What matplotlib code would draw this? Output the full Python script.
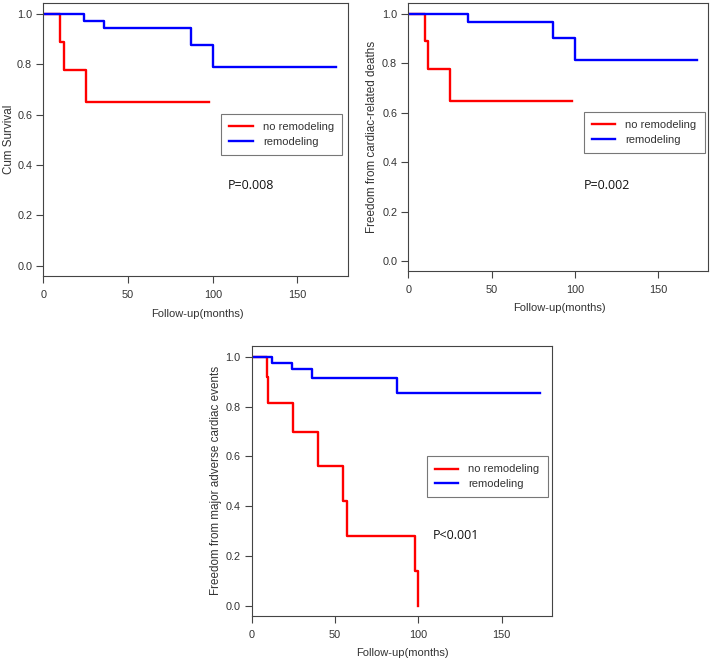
import matplotlib

matplotlib.use("Agg")
import matplotlib.pyplot as plt

plt.rcParams["font.family"] = ["Liberation Sans", "DejaVu Sans"]

# Panel A: cumulative survival
a_no_t = [0, 10, 12, 25, 98]
a_no_s = [1.0, 0.889, 0.778, 0.648, 0.648]
a_re_t = [0, 24, 36, 87, 100, 173]
a_re_s = [1.0, 0.971, 0.943, 0.877, 0.790, 0.790]

# Panel B: freedom from cardiac-related deaths
b_no_t = [0, 10, 12, 25, 98]
b_no_s = [1.0, 0.889, 0.778, 0.648, 0.648]
b_re_t = [0, 36, 87, 100, 173]
b_re_s = [1.0, 0.967, 0.902, 0.812, 0.812]

# Panel C: freedom from major adverse cardiac events
c_no_t = [0, 9, 10, 25, 40, 55, 57, 98, 100]
c_no_s = [1.0, 0.917, 0.815, 0.699, 0.560, 0.419, 0.279, 0.140, 0.0]
c_re_t = [0, 12, 24, 36, 87, 173]
c_re_s = [1.0, 0.976, 0.951, 0.915, 0.853, 0.853]

group_labels = ["no remodeling", "remodeling"]
x_ticks = [0, 50, 100, 150]
y_ticks = [0.0, 0.2, 0.4, 0.6, 0.8, 1.0]

SPINE = "#444444"
TEXT = "#333333"


def draw_panel(fig, rect, no_t, no_s, re_t, re_s, ylabel, ptext,
               leg_anchor, p_pos, ylab_x, xlab_y):
    ax = fig.add_axes(rect)
    ax.step(no_t, no_s, where="post", color="#ff0000", lw=1.7, label=group_labels[0])
    ax.step(re_t, re_s, where="post", color="#0000ff", lw=1.7, label=group_labels[1])

    ax.set_xlim(0, 180)
    ax.set_ylim(-0.04, 1.043)
    ax.set_xticks(x_ticks)
    ax.set_yticks(y_ticks)
    ax.set_yticklabels([f"{v:.1f}" for v in y_ticks])
    ax.tick_params(direction="out", length=5, width=0.8, color=SPINE,
                   labelcolor=TEXT, labelsize=7.8)
    ax.tick_params(axis="x", pad=5)
    ax.tick_params(axis="y", pad=3)
    for spine in ax.spines.values():
        spine.set_color(SPINE)
        spine.set_linewidth(0.8)

    ax.set_xlabel("Follow-up(months)", fontsize=8, color=TEXT)
    ax.set_ylabel(ylabel, fontsize=8.4, color=TEXT)
    ax.xaxis.set_label_coords(0.504, xlab_y)
    ax.yaxis.set_label_coords(ylab_x, 0.5)

    leg = ax.legend(loc="upper left", bbox_to_anchor=leg_anchor, borderaxespad=0,
                    fontsize=8, frameon=True, fancybox=False, handlelength=2.1,
                    handletextpad=0.9, borderpad=0.75, labelspacing=0.4)
    leg.get_frame().set_edgecolor("#555555")
    leg.get_frame().set_linewidth(0.8)
    for txt in leg.get_texts():
        txt.set_color(TEXT)

    ax.text(p_pos[0], p_pos[1], ptext, transform=ax.transAxes, fontsize=9,
            family=["Open Sans", "DejaVu Sans"], color="#111111", va="center")
    return ax


def main():
    fig = plt.figure(figsize=(7.1, 6.6), dpi=100)

    draw_panel(fig, [0.061, 0.582, 0.4296, 0.4136],
               a_no_t, a_no_s, a_re_t, a_re_s,
               "Cum Survival", "P=0.008",
               (0.583, 0.593), (0.606, 0.33), -0.094, -0.121)

    draw_panel(fig, [0.575, 0.5894, 0.4225, 0.406],
               b_no_t, b_no_s, b_re_t, b_re_s,
               "Freedom from cardiac-related deaths", "P=0.002",
               (0.585, 0.594), (0.585, 0.318), -0.1, -0.119)

    draw_panel(fig, [0.3545, 0.0671, 0.4225, 0.4086],
               c_no_t, c_no_s, c_re_t, c_re_s,
               "Freedom from major adverse cardiac events", "P<0.001",
               (0.583, 0.592), (0.603, 0.296), -0.1, -0.121)

    fig.savefig("out.png", dpi=100)
    plt.close(fig)


if __name__ == "__main__":
    main()
